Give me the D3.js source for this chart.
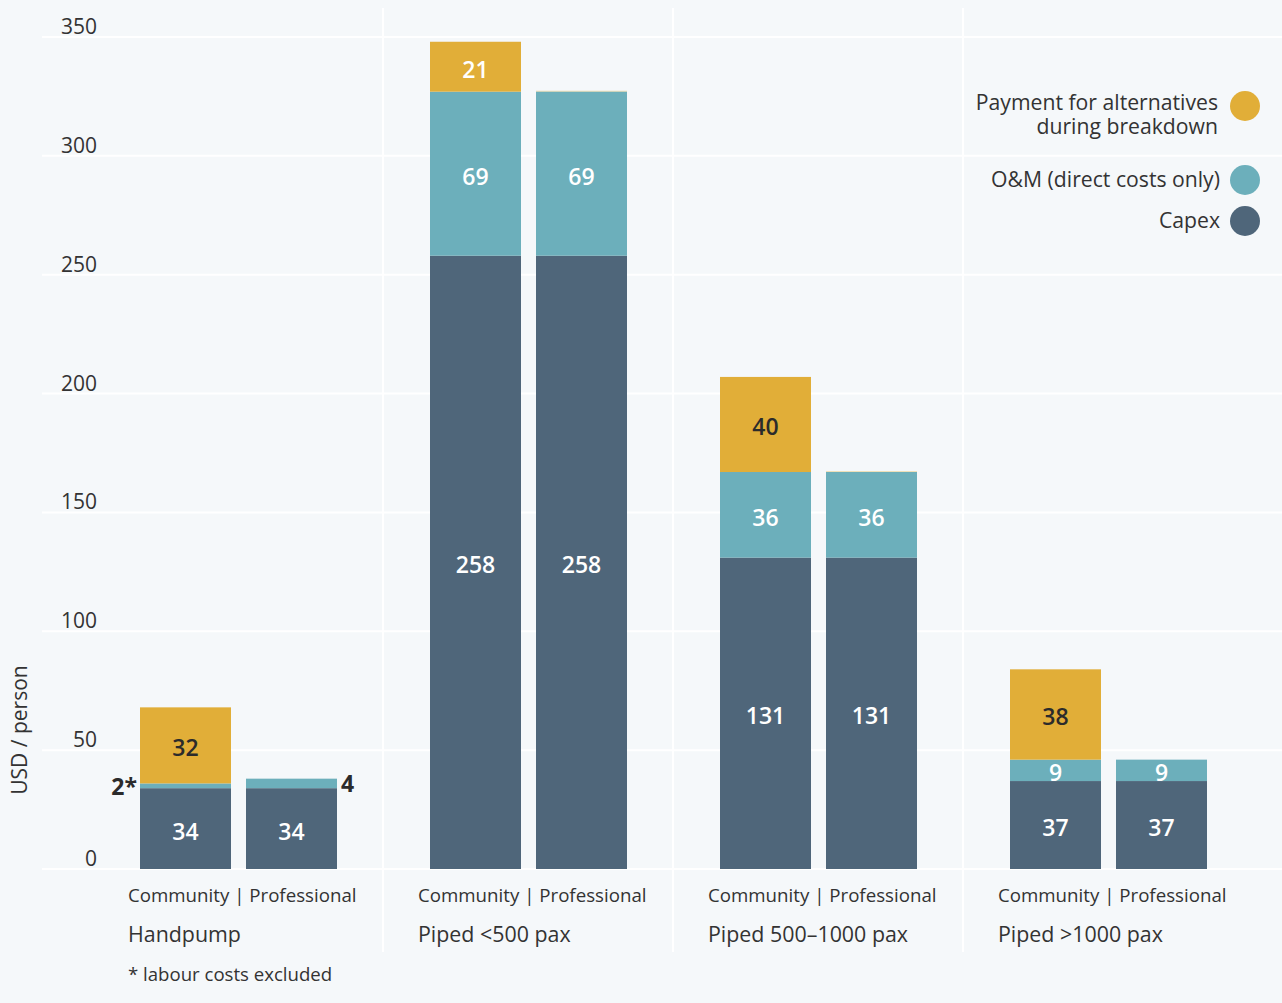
<!DOCTYPE html>
<html>
<head>
<meta charset="utf-8">
<script src="https://cdn.jsdelivr.net/npm/d3@7"></script>
<style>
  html, body { margin: 0; padding: 0; background: #f5f8fa; }
  svg { display: block; font-family: 'Open Sans', 'Noto Sans', sans-serif; }
</style>
</head>
<body>
<svg id="chart" width="1282" height="1003"></svg>
<script>
const groups = ['Handpump', 'Piped <500 pax', 'Piped 500\u20131000 pax', 'Piped >1000 pax'];
const models = ['Community', 'Professional'];
const seriesNames = ['Capex', 'O&M (direct costs only)', 'Payment for alternatives during breakdown'];

// values per group: [community, professional]
const capex = [[34, 34], [258, 258], [131, 131], [37, 37]];
const om = [[2, 4], [69, 69], [36, 36], [9, 9]];
const payment = [[32, 0], [21, 0.4], [40, 0.4], [38, 0]];

const yTicks = [0, 50, 100, 150, 200, 250, 300, 350];
const colors = ['#4f667a', '#6cafbb', '#e1ae38'];

const svg = d3.select('#chart');
const width = 1282;

const y = d3.scaleLinear().domain([0, 350]).range([869, 37]);
const x0 = d3.scaleBand().domain(groups).range([128, 128 + 290 * 4]);
const x1 = d3.scaleBand().domain(models).range([12, 209]).paddingInner(15 / 106);

// gridlines
svg.append('g')
  .selectAll('line')
  .data(yTicks)
  .join('line')
  .attr('x1', 42)
  .attr('x2', width)
  .attr('y1', (d) => y(d))
  .attr('y2', (d) => y(d))
  .attr('stroke', '#ffffff')
  .attr('stroke-width', 2);

// vertical separators between groups
svg.append('g')
  .selectAll('line')
  .data(groups.slice(1))
  .join('line')
  .attr('x1', (d) => x0(d) - 35)
  .attr('x2', (d) => x0(d) - 35)
  .attr('y1', 8)
  .attr('y2', 952)
  .attr('stroke', '#ffffff')
  .attr('stroke-width', 2);

// y tick labels
svg.append('g')
  .selectAll('text')
  .data(yTicks)
  .join('text')
  .attr('x', 97)
  .attr('y', (d) => y(d) - 3)
  .attr('text-anchor', 'end')
  .attr('font-size', 21)
  .attr('fill', '#333')
  .text((d) => d);

// y axis title
svg.append('text')
  .attr('transform', 'translate(27,730) rotate(-90)')
  .attr('text-anchor', 'middle')
  .attr('font-size', 21)
  .attr('fill', '#333')
  .text('USD / person');

// build stacked segments
const segments = [];
groups.forEach((g, gi) => {
  models.forEach((m, mi) => {
    const vals = [capex[gi][mi], om[gi][mi], payment[gi][mi]];
    let base = 0;
    vals.forEach((v, si) => {
      segments.push({ group: g, gi, model: m, mi, series: si, y0: base, y1: base + v, value: v });
      base += v;
    });
  });
});

const barX = (d) => x0(d.group) + x1(d.model);

svg.append('g')
  .selectAll('rect')
  .data(segments.filter((d) => d.value > 0))
  .join('rect')
  .attr('x', barX)
  .attr('y', (d) => y(d.y1))
  .attr('width', x1.bandwidth())
  .attr('height', (d) => y(d.y0) - y(d.y1))
  .attr('fill', (d) => colors[d.series])
  .attr('fill-opacity', (d) => (d.value < 1 ? 0.35 : 1));

// value labels
const labelled = segments.filter((d) => d.value >= 1);
svg.append('g')
  .selectAll('text')
  .data(labelled)
  .join('text')
  .attr('font-size', 23)
  .each(function (d) {
    const t = d3.select(this);
    const small = d.value < 5;
    const cy = (y(d.y0) + y(d.y1)) / 2;
    if (small) {
      const left = d.mi === 0;
      t.attr('x', left ? barX(d) - 3 : barX(d) + x1.bandwidth() + 4)
        .attr('y', cy + 9)
        .attr('text-anchor', left ? 'end' : 'start')
        .attr('font-weight', 700)
        .attr('fill', '#2b2b2b')
        .text(left ? d.value + '*' : d.value);
    } else {
      const dark = d.series === 2 && d.gi !== 1;
      t.attr('x', barX(d) + x1.bandwidth() / 2)
        .attr('y', cy + 11)
        .attr('text-anchor', 'middle')
        .attr('fill', dark ? '#2b2b2b' : '#ffffff')
        .attr('font-weight', 600)
        .text(d.value);
    }
  });

// category labels
svg.append('g')
  .selectAll('text')
  .data(groups)
  .join('text')
  .attr('x', (d) => x0(d))
  .attr('y', 902)
  .attr('font-size', 18.7)
  .attr('fill', '#333')
  .text(models.join(' | '));

svg.append('g')
  .selectAll('text')
  .data(groups)
  .join('text')
  .attr('x', (d) => x0(d))
  .attr('y', 942)
  .attr('font-size', 21.4)
  .attr('fill', '#333')
  .text((d) => d);

svg.append('text')
  .attr('x', 128)
  .attr('y', 981)
  .attr('font-size', 18.6)
  .attr('fill', '#333')
  .text('* labour costs excluded');

// legend
const legendItems = [
  { lines: ['Payment for alternatives', 'during breakdown'], color: colors[2], cy: 106 },
  { lines: ['O&M (direct costs only)'], color: colors[1], cy: 180 },
  { lines: ['Capex'], color: colors[0], cy: 221 }
];

const legend = svg.append('g');
legendItems.forEach((item, i) => {
  legend.append('circle')
    .attr('cx', 1245)
    .attr('cy', item.cy)
    .attr('r', 15)
    .attr('fill', item.color);
  const lx = i === 0 ? 1218 : 1220;
  const label = legend.append('text')
    .attr('x', lx)
    .attr('y', (i === 0 ? item.cy - 3 : item.cy) + 7)
    .attr('text-anchor', 'end')
    .attr('font-size', 21.2)
    .attr('fill', '#333');
  item.lines.forEach((line, li) => {
    label.append('tspan')
      .attr('x', lx)
      .attr('dy', li === 0 ? 0 : 24)
      .text(line);
  });
});
</script>
</body>
</html>
